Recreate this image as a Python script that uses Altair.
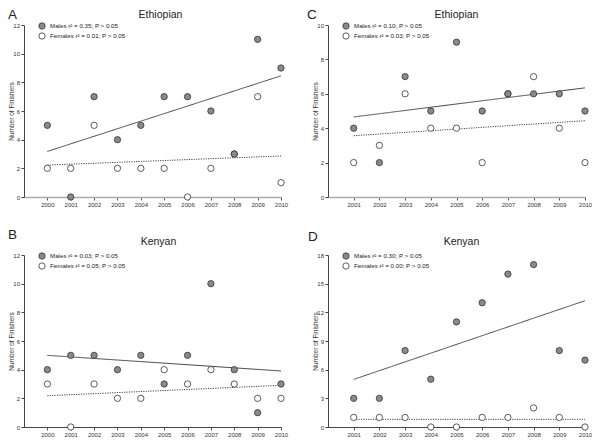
import altair as alt
import pandas as pd

years_ab = list(range(2000, 2011))
years_cd = list(range(2001, 2011))

eth_ab_males = [5, 0, 7, 4, 5, 7, 7, 6, 3, 11, 9]
eth_ab_females = [2, 2, 5, 2, 2, 2, 0, 2, 3, 7, 1]
ken_ab_males = [4, 5, 5, 4, 5, 3, 5, 10, 4, 1, 3]
ken_ab_females = [3, 0, 3, 2, 2, 4, 3, 4, 3, 2, 2]
eth_cd_males = [4, 2, 7, 5, 9, 5, 6, 6, 6, 5]
eth_cd_females = [2, 3, 6, 4, 4, 2, 6, 7, 4, 2]
ken_cd_males = [3, 3, 8, 5, 11, 13, 16, 17, 8, 7]
ken_cd_females = [1, 1, 1, 0, 0, 1, 1, 2, 1, 0]

legend_a = ["Males r² = 0.35; P > 0.05", "Females r² = 0.01; P > 0.05"]
legend_b = ["Males r² = 0.03; P > 0.05", "Females r² = 0.05; P > 0.05"]
legend_c = ["Males r² = 0.10; P > 0.05", "Females r² = 0.03; P > 0.05"]
legend_d = ["Males r² = 0.30; P > 0.05", "Females r² = 0.00; P > 0.05"]

FONT = "Liberation Sans"
W, H = 257, 172


def text_layer(txt, x, y, size, align="left", baseline="middle"):
    return alt.Chart(pd.DataFrame({"t": [txt]})).mark_text(
        align=align, baseline=baseline, fontSize=size, font=FONT, color="#222"
    ).encode(x=alt.value(x), y=alt.value(y), text="t:N")


def panel(letter, title, years, males, females, legend, ymax, ystep, xmin,
          letter_x, letter_y, title_dx, title_y, dom_color, dom_width):
    n = len(years)
    df = pd.DataFrame({
        "year": years + years,
        "count": males + females,
        "sex": ["Males"] * n + ["Females"] * n,
    })
    x = alt.X("year:Q",
              scale=alt.Scale(domain=[xmin, 2010], nice=False, zero=False),
              axis=alt.Axis(values=years, format="d", title=None, grid=False,
                            tickSize=3, labelFontSize=6, labelPadding=1.5,
                            labelFlush=False, labelOverlap=False,
                            domainColor=dom_color, domainWidth=dom_width,
                            tickColor="#555", labelColor="#333", labelFont=FONT))
    y = alt.Y("count:Q",
              scale=alt.Scale(domain=[0, ymax], nice=False),
              axis=alt.Axis(values=list(range(0, ymax + 1, ystep)),
                            title="Number of Finishers", titleFontSize=6.5,
                            titleFontWeight="normal", titleColor="#333",
                            titleFont=FONT, titleX=-10, titleY=H / 2,
                            grid=False, tickSize=3, labelFontSize=6,
                            labelPadding=1.5, labelColor="#333", labelFont=FONT,
                            domainColor="#444", tickColor="#444"))
    base = alt.Chart(df)
    lines = base.transform_regression(
        "year", "count", groupby=["sex"]
    ).mark_line(color="#444", strokeWidth=1).encode(
        x=x, y=y,
        strokeDash=alt.StrokeDash("sex:N",
                                  scale=alt.Scale(domain=["Males", "Females"],
                                                  range=[[1, 0], [1.2, 1.2]]),
                                  legend=None),
    )
    fem = base.transform_filter(alt.datum.sex == "Females").mark_circle(
        size=40, color="white", stroke="#333", strokeWidth=0.8, opacity=1
    ).encode(x=x, y=y)
    mal = base.transform_filter(alt.datum.sex == "Males").mark_circle(
        size=40, color="#8a8a8a", stroke="#333", strokeWidth=0.8, opacity=1
    ).encode(x=x, y=y)

    one = pd.DataFrame({"t": [0]})
    leg_m = alt.Chart(one).mark_circle(size=40, color="#8a8a8a", stroke="#333",
                                       strokeWidth=0.8, opacity=1).encode(
        x=alt.value(18), y=alt.value(1))
    leg_f = alt.Chart(one).mark_circle(size=40, color="white", stroke="#333",
                                       strokeWidth=0.8, opacity=1).encode(
        x=alt.value(18), y=alt.value(11))
    t_m = text_layer(legend[0], 26, 1, 6.2)
    t_f = text_layer(legend[1], 26, 11, 6.2)
    let = text_layer(letter, letter_x, letter_y, 13.5, baseline="top")
    ttl = text_layer(title, W / 2 + title_dx, title_y, 10.5, align="center")

    return alt.layer(lines, fem, mal, leg_m, leg_f, t_m, t_f, let, ttl).properties(
        width=W, height=H)


pa = panel("A", "Ethiopian", years_ab, eth_ab_males, eth_ab_females, legend_a,
           12, 2, 1999, -16, -17, 8, -10.5, "#aaa", 1.6)
pc = panel("C", "Ethiopian", years_cd, eth_cd_males, eth_cd_females, legend_c,
           10, 2, 2000, -21, -17, 0, -10.5, "#aaa", 1.6)
pb = panel("B", "Kenyan", years_ab, ken_ab_males, ken_ab_females, legend_b,
           12, 2, 1999, -16, -27, 6, -13, "#444", 1)
pd_ = panel("D", "Kenyan", years_cd, ken_cd_males, ken_cd_females, legend_d,
            18, 3, 2000, -20, -25, 5, -13, "#444", 1)

chart = alt.concat(pa, pc, pb, pd_, columns=2, spacing={"row": 58, "column": 47},
                   bounds="flush").properties(
    padding=0, background="white"
).configure_view(stroke=None)

chart.save("out.html", embed_options={"renderer": "svg", "actions": False})
